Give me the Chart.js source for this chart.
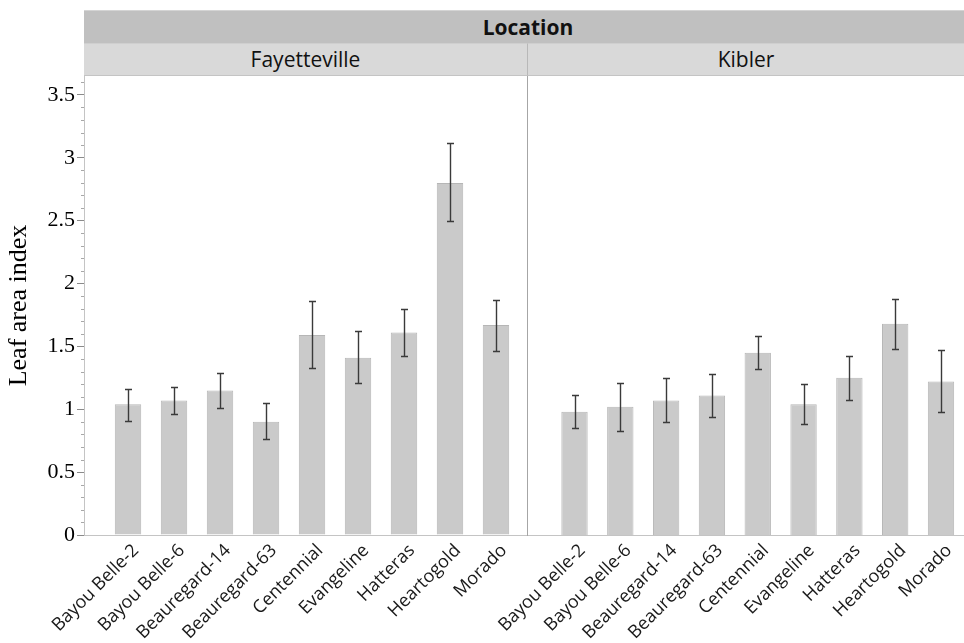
<!DOCTYPE html>
<html>
<head>
<meta charset="utf-8">
<script src="https://cdn.jsdelivr.net/npm/chart.js@4.4.0/dist/chart.umd.min.js"></script>
<style>
  body { margin: 0; background: #fff; }
  #page { position: relative; width: 964px; height: 643px; overflow: hidden; font-family: "Open Sans", sans-serif; }
  .strip { position: absolute; box-sizing: border-box; text-align: center; color: #111; }
  #loc { left: 84px; top: 10px; width: 880px; height: 33px; line-height: 33px; background: #c0c0c0;
         border-top: 1px solid #d4d4d4; font-weight: bold; font-size: 21px; padding-left: 8px; }
  #fay { left: 84px; top: 43px; width: 443px; height: 33px; line-height: 31px; background: #d9d9d9;
         border-top: 1px solid #cfcfcf; border-bottom: 1px solid #c4c4c4; font-size: 21px; }
  #kib { left: 527px; top: 43px; width: 437px; height: 33px; line-height: 31px; background: #d9d9d9;
         border-top: 1px solid #cfcfcf; border-bottom: 1px solid #c4c4c4; border-left: 1px solid #b8b8b8; font-size: 21px; }
  canvas { position: absolute; top: 76px; }
  #fayChart { left: 0; }
  #kibChart { left: 440px; }
</style>
</head>
<body>
<div id="page">
  <div class="strip" id="loc">Location</div>
  <div class="strip" id="fay">Fayetteville</div>
  <div class="strip" id="kib">Kibler</div>
  <canvas id="fayChart" width="527" height="567"></canvas>
  <canvas id="kibChart" width="524" height="567"></canvas>
</div>
<script>
/* ======= Dados ======= */
const cultivares = ["Bayou Belle-2", "Bayou Belle-6", "Beauregard-14", "Beauregard-63",
  "Centennial", "Evangeline", "Hatteras", "Heartogold", "Morado"];

const fayMedia = [1.04, 1.07, 1.15, 0.90, 1.59, 1.41, 1.61, 2.80, 1.67];
const fayInf   = [0.91, 0.96, 1.01, 0.76, 1.33, 1.21, 1.42, 2.50, 1.46];
const faySup   = [1.16, 1.18, 1.29, 1.05, 1.86, 1.62, 1.80, 3.12, 1.87];

const kibMedia = [0.98, 1.02, 1.07, 1.11, 1.45, 1.04, 1.25, 1.68, 1.22];
const kibInf   = [0.85, 0.83, 0.90, 0.94, 1.32, 0.88, 1.07, 1.48, 0.98];
const kibSup   = [1.11, 1.21, 1.25, 1.28, 1.58, 1.20, 1.42, 1.88, 1.47];

const yTicks = [0, 0.5, 1, 1.5, 2, 2.5, 3, 3.5];
const yMax = 3.65;

/* ======= Plugins ======= */
// barras de erro desenhadas pela escala y
const barrasErro = {
  id: 'barrasErro',
  afterDatasetsDraw(chart, args, opts) {
    const { ctx } = chart;
    const y = chart.scales.y;
    const meta = chart.getDatasetMeta(0);
    ctx.save();
    ctx.strokeStyle = '#3a3a3a';
    ctx.lineWidth = 1.4;
    meta.data.forEach((bar, i) => {
      const top = Math.round(y.getPixelForValue(opts.sup[i])) + 0.5;
      const bot = Math.round(y.getPixelForValue(opts.inf[i])) + 0.5;
      const x = Math.round(bar.x) + 0.5;
      ctx.beginPath();
      ctx.moveTo(x, top); ctx.lineTo(x, bot);
      ctx.moveTo(x - 3.5, top); ctx.lineTo(x + 3.5, top);
      ctx.moveTo(x - 3.5, bot); ctx.lineTo(x + 3.5, bot);
      ctx.stroke();
    });
    ctx.restore();
  }
};

// marcas menores do eixo y (passo 0.1)
const marcasMenores = {
  id: 'marcasMenores',
  afterDraw(chart, args, opts) {
    if (!opts.ativo) return;
    const { ctx } = chart;
    const y = chart.scales.y;
    ctx.save();
    ctx.strokeStyle = '#a8a8a8';
    ctx.lineWidth = 1;
    for (let k = 1; k * 0.1 <= yMax; k++) {
      if (k % 5 === 0) continue;
      const py = Math.round(y.getPixelForValue(k * 0.1)) + 0.5;
      ctx.beginPath();
      ctx.moveTo(y.right - 3, py); ctx.lineTo(y.right, py);
      ctx.stroke();
    }
    ctx.restore();
  }
};

/* ======= Gráficos ======= */
function criarPainel(id, medias, inf, sup, xMin, xMax, comEixo) {
  const fixarX = scale => {
    scale.height = 108;
    scale.paddingLeft = 0;
    scale.paddingRight = 0;
  };
  const fixarY = scale => {
    scale.width = comEixo ? 84 : 0;
    scale.paddingTop = 0;
    scale.paddingBottom = 0;
  };

  return new Chart(document.getElementById(id), {
    type: 'bar',
    data: {
      datasets: [{
        data: medias.map((v, i) => ({ x: i, y: v })),
        backgroundColor: '#cacaca',
        borderColor: '#b6b6b6',
        borderWidth: 1,
        barPercentage: 0.575,
        categoryPercentage: 1
      }]
    },
    options: {
      responsive: false,
      animation: false,
      layout: { padding: { left: comEixo ? 0 : 87, right: 0, top: 0, bottom: 0 } },
      plugins: {
        legend: { display: false },
        tooltip: { enabled: false },
        barrasErro: { inf, sup },
        marcasMenores: { ativo: comEixo }
      },
      scales: {
        x: {
          type: 'linear',
          offset: false,
          min: xMin,
          max: xMax,
          grid: { display: false },
          border: { color: '#c4c4c4', width: 1 },
          afterBuildTicks: scale => { scale.ticks = cultivares.map((c, i) => ({ value: i })); },
          afterFit: fixarX,
          ticks: {
            autoSkip: false,
            minRotation: 45,
            maxRotation: 45,
            padding: -3,
            labelOffset: 8,
            color: '#1a1a1a',
            font: { family: 'Open Sans', size: 18 },
            callback: (value, index) => cultivares[index]
          }
        },
        y: {
          min: 0,
          max: yMax,
          afterBuildTicks: scale => { scale.ticks = yTicks.map(v => ({ value: v })); },
          afterFit: fixarY,
          grid: {
            display: comEixo,
            drawOnChartArea: false,
            tickLength: 7,
            color: '#8a8a8a'
          },
          border: { color: comEixo ? '#c4c4c4' : '#a6a6a6', width: 1 },
          title: {
            display: comEixo,
            text: 'Leaf area index',
            color: '#000',
            font: { family: 'Liberation Serif', size: 26 },
            padding: 4
          },
          ticks: {
            display: comEixo,
            padding: 2,
            color: '#000',
            font: { family: 'Liberation Serif', size: 22 },
            callback: value => String(value)
          }
        }
      }
    },
    plugins: [barrasErro, marcasMenores]
  });
}

document.addEventListener('DOMContentLoaded', () => {
  criarPainel('fayChart', fayMedia, fayInf, faySup, -0.957, 8.674, true);
  criarPainel('kibChart', kibMedia, kibInf, kibSup, -1.037, 8.502, false);
});
</script>
</body>
</html>
